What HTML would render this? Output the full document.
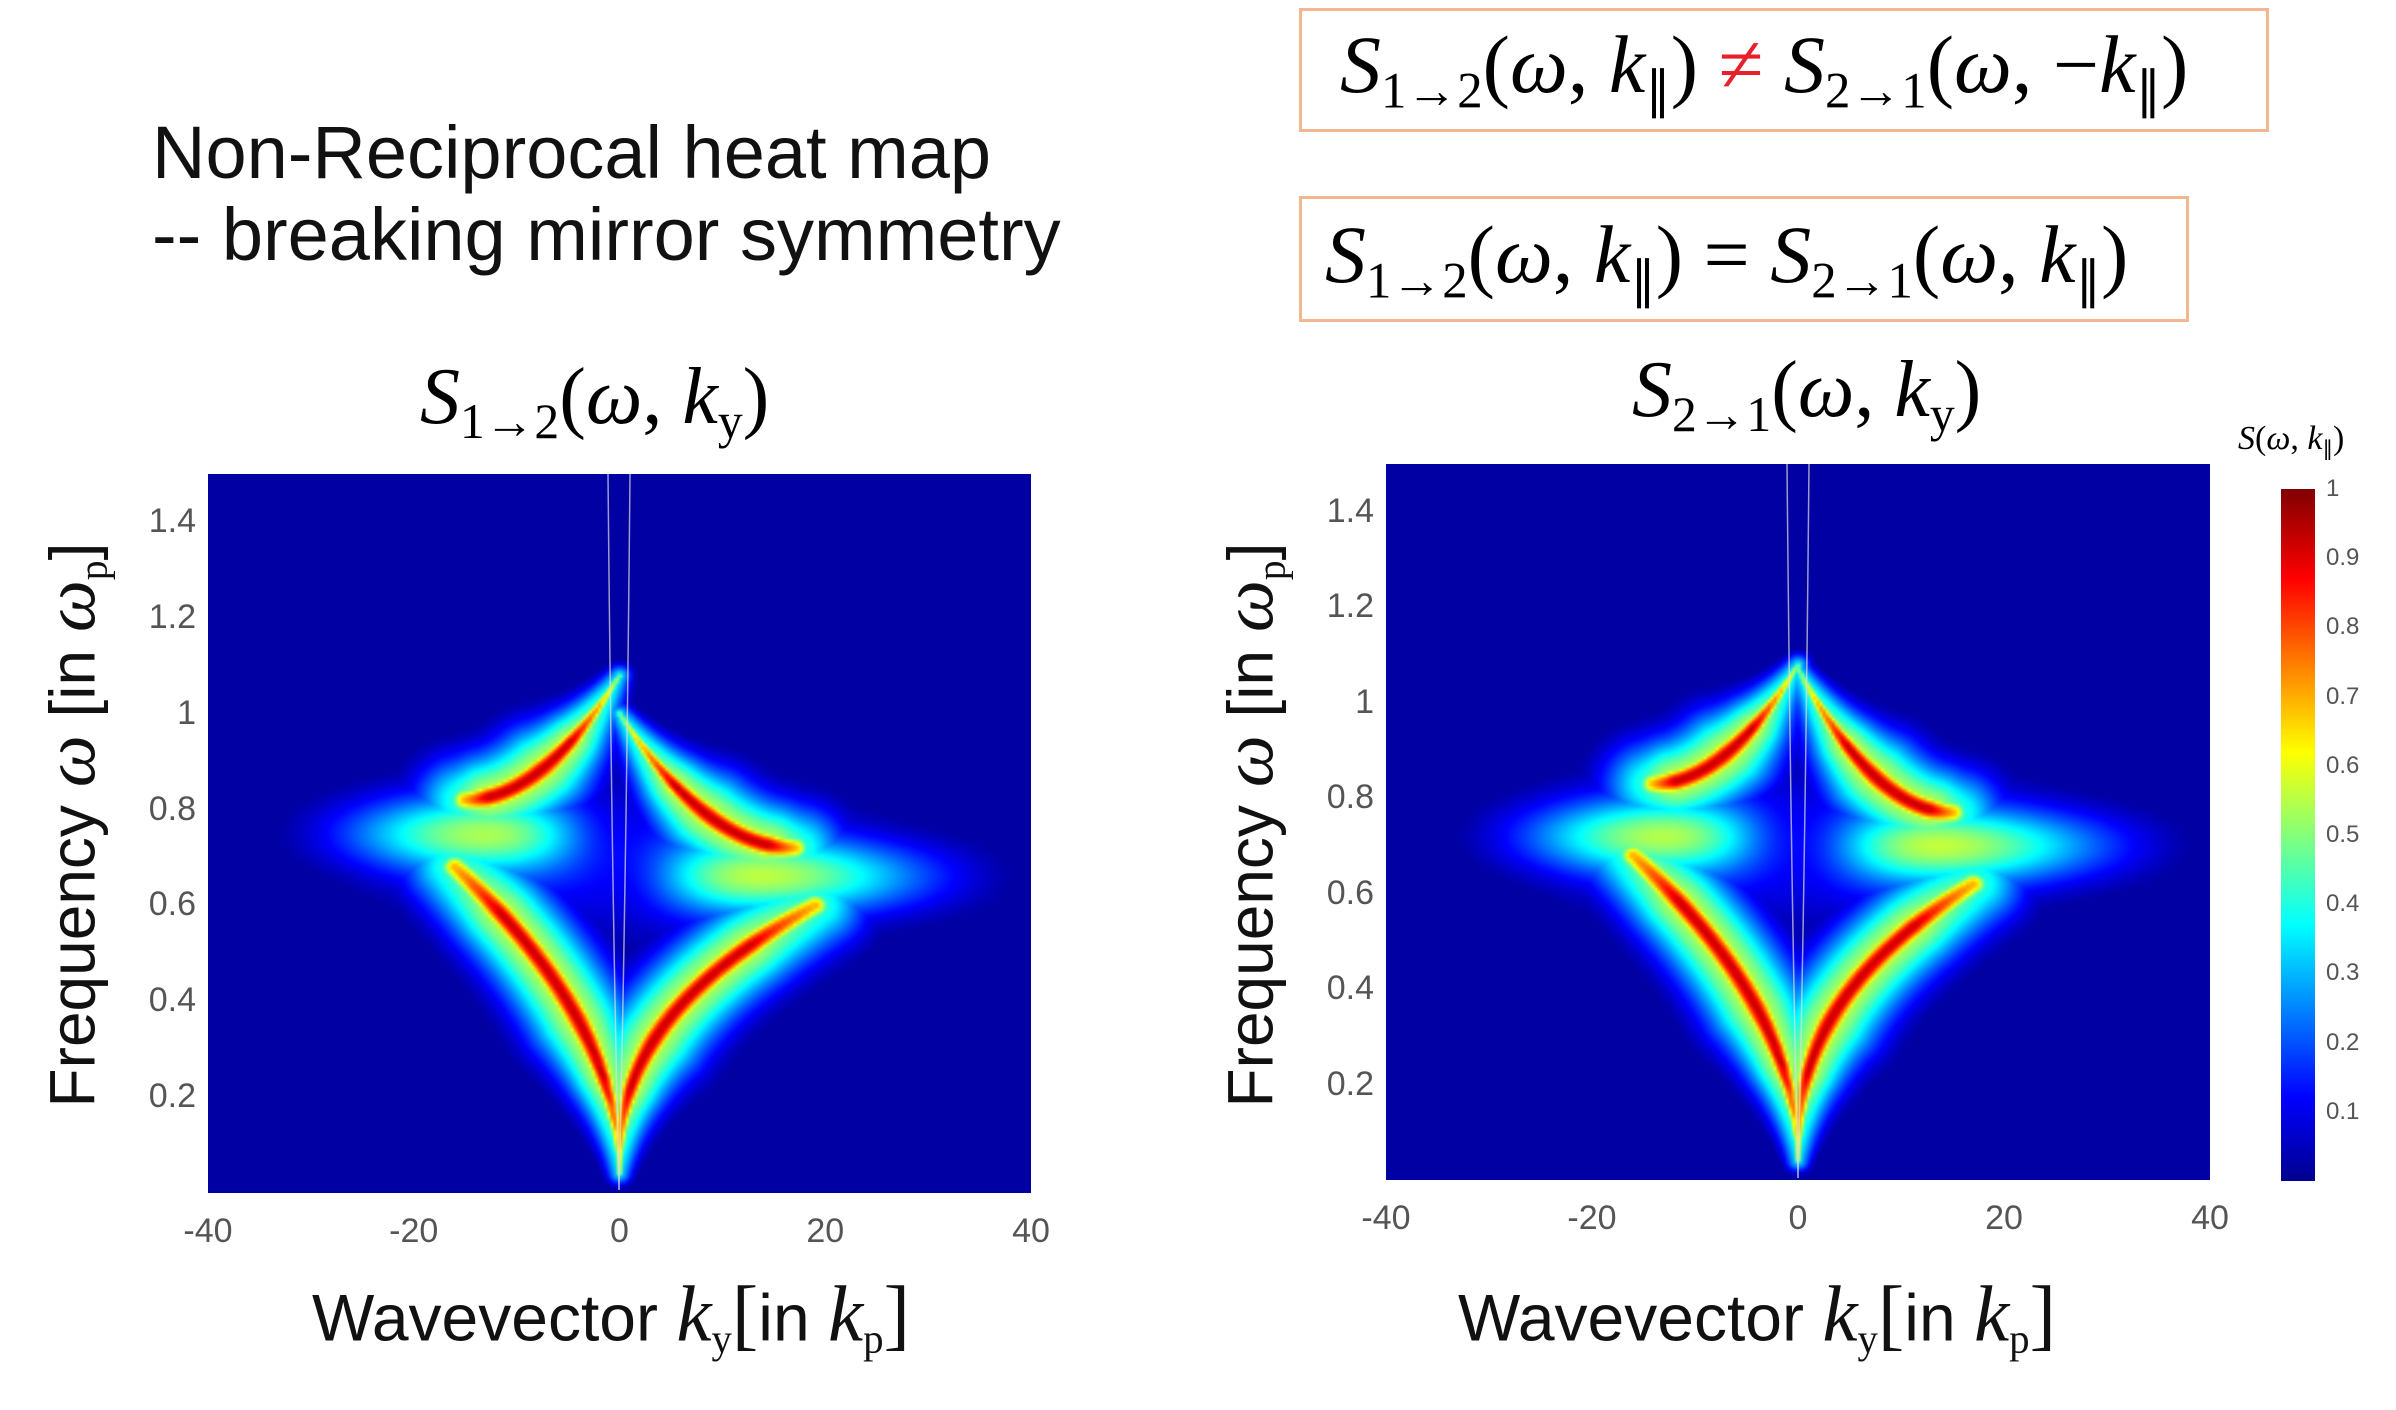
<!DOCTYPE html>
<html><head><meta charset="utf-8">
<style>
body{margin:0;background:#fff;width:2396px;height:1410px;position:relative;overflow:hidden;font-family:"Liberation Sans",sans-serif;}
.a{position:absolute;white-space:nowrap;}
.m{font-family:"Liberation Serif",serif;}
.i{font-style:italic;}
.box{position:absolute;border:3px solid #f2b690;box-sizing:border-box;}
.tk{position:absolute;color:#555;font-size:34px;}
canvas{position:absolute;}
sub{font-size:0.62em;vertical-align:-0.3em;font-style:normal;}
</style></head><body>
<div class="a" style="left:152px;top:112px;font-size:74px;color:#111;line-height:82px;">Non-Reciprocal heat map<br>-- breaking mirror symmetry</div>

<div class="box" style="left:1299px;top:8px;width:970px;height:124px;"></div>
<div class="a m" style="left:1340px;top:18px;font-size:82px;"><span class="i">S</span><sub>1→2</sub>(<span class="i">ω</span>, <span class="i">k</span><sub>∥</sub>) <span style="color:#e8202a">≠</span> <span class="i">S</span><sub>2→1</sub>(<span class="i">ω</span>, −<span class="i">k</span><sub>∥</sub>)</div>
<div class="box" style="left:1299px;top:196px;width:890px;height:126px;"></div>
<div class="a m" style="left:1325px;top:208px;font-size:82px;"><span class="i">S</span><sub>1→2</sub>(<span class="i">ω</span>, <span class="i">k</span><sub>∥</sub>) = <span class="i">S</span><sub>2→1</sub>(<span class="i">ω</span>, <span class="i">k</span><sub>∥</sub>)</div>

<div class="a m" style="left:420px;top:352px;font-size:80px;"><span class="i">S</span><sub>1→2</sub>(<span class="i">ω</span>, <span class="i">k</span><sub>y</sub>)</div>
<div class="a m" style="left:1632px;top:345px;font-size:80px;"><span class="i">S</span><sub>2→1</sub>(<span class="i">ω</span>, <span class="i">k</span><sub>y</sub>)</div>

<canvas id="c1" width="270" height="240" style="left:208px;top:474px;width:823px;height:719px;"></canvas>
<canvas id="c2" width="270" height="240" style="left:1386px;top:464px;width:824px;height:716px;"></canvas>
<svg class="a" style="left:0;top:0" width="2396" height="1410">
<g stroke="#ddd" stroke-width="1.5" fill="none" opacity="0.7">
<path d="M619,1190 Q612,900 608,474"/><path d="M619,1190 Q626,900 630,474"/>
<path d="M1798,1178 Q1791,890 1787,464"/><path d="M1798,1178 Q1805,890 1809,464"/>
</g></svg>

<div id="ticks"></div>

<div class="a" style="left:72px;top:825px;transform:translate(-50%,-50%) rotate(-90deg);font-size:64px;color:#111;">Frequency <span class="m i" style="font-size:1.15em">ω</span> [in <span class="m i" style="font-size:1.15em">ω</span><sub class="m">p</sub>]</div>
<div class="a" style="left:1250px;top:825px;transform:translate(-50%,-50%) rotate(-90deg);font-size:64px;color:#111;">Frequency <span class="m i" style="font-size:1.15em">ω</span> [in <span class="m i" style="font-size:1.15em">ω</span><sub class="m">p</sub>]</div>
<div class="a" style="left:611px;top:1316px;transform:translate(-50%,-50%);font-size:66px;color:#111;">Wavevector <span class="m i" style="font-size:1.2em">k</span><sub class="m">y</sub><span class="m" style="font-size:1.2em">[</span>in <span class="m i" style="font-size:1.2em">k</span><sub class="m">p</sub><span class="m" style="font-size:1.2em">]</span></div>
<div class="a" style="left:1757px;top:1316px;transform:translate(-50%,-50%);font-size:66px;color:#111;">Wavevector <span class="m i" style="font-size:1.2em">k</span><sub class="m">y</sub><span class="m" style="font-size:1.2em">[</span>in <span class="m i" style="font-size:1.2em">k</span><sub class="m">p</sub><span class="m" style="font-size:1.2em">]</span></div>

<div class="a" style="left:2281px;top:489px;width:34px;height:692px;background:linear-gradient(to top,#00008f 0%,#0000ff 12%,#00ffff 37%,#ffff00 62%,#ff0000 87%,#800000 100%);"></div>
<div class="a m" style="left:2238px;top:420px;font-size:34px;"><span class="i">S</span>(<span class="i">ω</span>, <span class="i">k</span><sub>∥</sub>)</div>

<script>
function jet(v){v=Math.max(0,Math.min(1,v));
 var r=Math.min(4*v-1.5,-4*v+4.5),g=Math.min(4*v-0.5,-4*v+3.5),b=Math.min(4*v+0.5,-4*v+2.5);
 return [255*Math.max(0,Math.min(1,r)),255*Math.max(0,Math.min(1,g)),255*Math.max(0,Math.min(1,b))];}
function lobes(defs){var pts=[];defs.forEach(function(f){for(var i=0;i<=90;i++){var s=i/90;pts.push(f(s));}});return pts;}
function amp(s){return Math.min(0.93,0.55+1.2*s)*(s>0.85?1-(s-0.85)*1.6:1);}
function render(id,defs,glow){
 var c=document.getElementById(id),x=c.getContext('2d'),W=c.width,H=c.height,img=x.createImageData(W,H);
 var pts=lobes(defs);
 for(var j=0;j<H;j++){var w=1.5*(1-(j+0.5)/H);
  for(var i=0;i<W;i++){var k=-40+80*(i+0.5)/W;var v=0.035;
   var g=glow(k,w);if(g>v)v=g;
   for(var p=0;p<pts.length;p++){var q=pts[p];var dk=(k-q[0])/80,dw=(w-q[1])/1.5;var d2=dk*dk+dw*dw;
    var sig=q[3];var a=q[2]*Math.exp(-d2/(2*sig*sig));if(a>v)v=a;
    var hs=sig*3.0;a=0.62*q[2]*Math.exp(-d2/(2*hs*hs));if(a>v)v=a;}
   var col=jet(Math.min(v,1));var o=4*(j*W+i);img.data[o]=col[0];img.data[o+1]=col[1];img.data[o+2]=col[2];img.data[o+3]=255;}}
 x.putImageData(img,0,0);}
function sg(s){return 0.0035+0.0105*Math.min(1,s*2);}
function up(K,w0,h){return function(s){return [K*s,w0+h*(1-s)*(1-s),amp(s),sg(s)];};}
function lo(K,wt,pw){return function(s){var w=0.04+(wt-0.04)*s;return [K*Math.pow(s,pw),w,amp(s),sg(s)];};}
function glowF(cL,cR){return function(k,w){var c=k<0?cL:cR;var e=(1-Math.exp(-(k/8)*(k/8)))*Math.exp(-Math.pow(Math.abs(k)/(k<0?26:30),4));
 return 0.5*Math.exp(-Math.pow((w-c)/0.08,2))*e+0.13*Math.exp(-Math.pow((w-0.7)/0.18,2))*Math.exp(-Math.pow(k/22,4));};}
render('c1',[up(-15,0.82,0.26),up(17,0.72,0.28),lo(-16,0.68,2),lo(19,0.6,2.5)],glowF(0.75,0.66));
render('c2',[up(-14,0.83,0.25),up(15,0.77,0.3),lo(-16,0.68,2),lo(17,0.62,2.5)],glowF(0.72,0.7));
var t='',yl=['1.4','1.2','1','0.8','0.6','0.4','0.2'];
for(var n=0;n<7;n++){var v=1.4-0.2*n;
 var y1=474+719*(1-v/1.5),y2=464+716*(1-v/1.5);
 t+='<div class="tk" style="right:'+(2396-196)+'px;top:'+(y1-20)+'px">'+yl[n]+'</div>';
 t+='<div class="tk" style="right:'+(2396-1374)+'px;top:'+(y2-20)+'px">'+yl[n]+'</div>';}
var xl=['-40','-20','0','20','40'];
for(var n=0;n<5;n++){var x1=208+823*n/4,x2=1386+824*n/4;
 t+='<div class="tk" style="left:'+x1+'px;top:1212px;transform:translateX(-50%)">'+xl[n]+'</div>';
 t+='<div class="tk" style="left:'+x2+'px;top:1199px;transform:translateX(-50%)">'+xl[n]+'</div>';}
for(var n=1;n<=10;n++){var y=1181-692*n/10;var lab=n==10?'1':'0.'+n;
 t+='<div class="tk" style="left:2326px;top:'+(y-14)+'px;font-size:24px">'+lab+'</div>';
 t+='<div class="a" style="left:2310px;top:'+y+'px;width:5px;height:2px;background:#333"></div>';}
document.getElementById('ticks').innerHTML=t;
</script>
</body></html>
